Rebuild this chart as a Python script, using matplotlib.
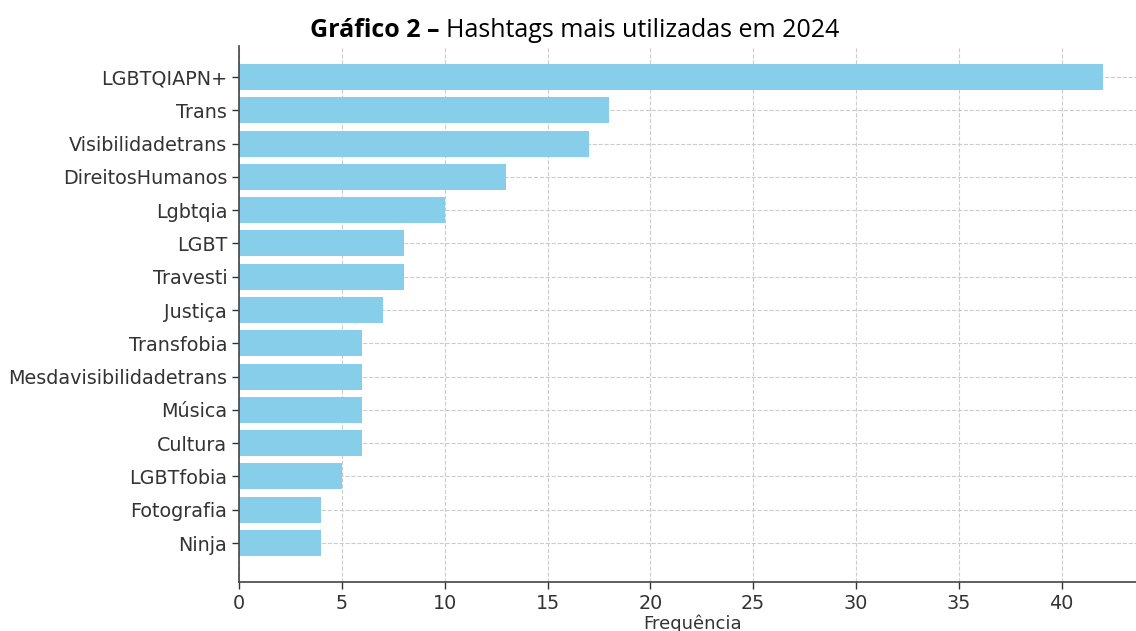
import matplotlib.pyplot as plt

tags = ["LGBTQIAPN+", "Trans", "Visibilidadetrans", "DireitosHumanos", "Lgbtqia",
        "LGBT", "Travesti", "Justiça", "Transfobia", "Mesdavisibilidadetrans",
        "Música", "Cultura", "LGBTfobia", "Fotografia", "Ninja"]
freq = [42, 18, 17, 13, 10, 8, 8, 7, 6, 6, 6, 6, 5, 4, 4]
xticks = [0, 5, 10, 15, 20, 25, 30, 35, 40]

plt.rcParams["font.family"] = ["DejaVu Sans"]

W, H = 1136, 631
fig = plt.figure(figsize=(W / 100, H / 100), dpi=100)
# axes runs a bit past the right edge, like the cropped original
ax = fig.add_axes([239 / W, (H - 582) / H, (1146 - 239) / W, (582 - 46) / H])

pos = list(range(len(tags)))
ax.barh(pos, freq, height=0.78, color="#87CEEB", zorder=2)
ax.set_yticks(pos)
ax.set_yticklabels(tags)
ax.set_ylim(len(tags) - 1 + 1.17, -0.93)
ax.set_xlim(0, 44.1)
ax.set_xticks(xticks)

ax.grid(True, linestyle="--", color="#cccccc", linewidth=0.8, zorder=0)
ax.spines["top"].set_visible(False)
ax.spines["right"].set_visible(False)
for s in ("left", "bottom"):
    ax.spines[s].set_color("#444444")
    ax.spines[s].set_linewidth(1.2)
ax.tick_params(labelsize=13.8, colors="#333333", length=5, width=1)
ax.set_xlabel("Frequência", fontsize=13, color="#333333", labelpad=1)

t1 = fig.text(310 / W, (H - 37) / H, "Gráfico 2 –", fontsize=18, fontweight="bold",
              family="Open Sans", ha="left", va="baseline", color="black")
fig.canvas.draw()
bb = t1.get_window_extent()
fig.text((bb.x1 + 6) / W, (H - 37) / H, "Hashtags mais utilizadas em 2024", fontsize=18,
         family="Open Sans", ha="left", va="baseline", color="black")

fig.savefig("out.png", dpi=100)
